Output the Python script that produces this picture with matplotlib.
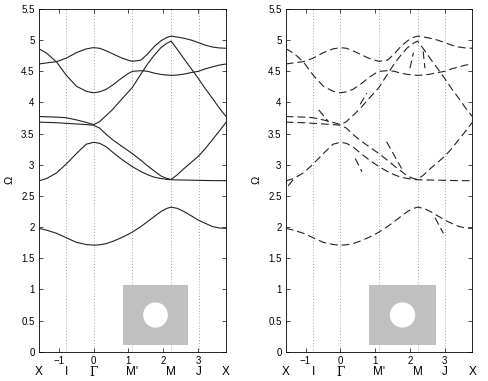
import numpy as np
import matplotlib
matplotlib.use("Agg")
import matplotlib.pyplot as plt
from matplotlib.patches import Ellipse
from matplotlib.transforms import blended_transform_factory

plt.rcParams['font.family'] = ['Liberation Sans', 'DejaVu Sans']

# ---- data ----
k = [-1.571, -1.34, -1.06, -0.785, -0.49, -0.21, 0.0, 0.17, 0.36, 0.55, 0.8, 0.98,
     1.11, 1.36, 1.55, 1.74, 1.93, 2.1, 2.221, 2.4, 2.59, 2.8, 3.006, 3.2, 3.4, 3.6, 3.792]

band1 = [1.98, 1.95, 1.90, 1.83, 1.755, 1.72, 1.71, 1.715, 1.735, 1.77, 1.83, 1.88,
         1.92, 2.01, 2.09, 2.17, 2.25, 2.30, 2.32, 2.30, 2.25, 2.18, 2.11, 2.06, 2.01, 1.985, 1.98]
band2 = [2.74, 2.78, 2.87, 3.01, 3.18, 3.33, 3.36, 3.345, 3.29, 3.20, 3.09, 3.02,
         2.97, 2.89, 2.84, 2.80, 2.78, 2.765, 2.76, 2.757, 2.755, 2.753, 2.75, 2.748, 2.746, 2.745, 2.745]
band3 = [3.685, 3.68, 3.675, 3.665, 3.655, 3.645, 3.635, 3.59, 3.49, 3.40, 3.30, 3.23,
         3.18, 3.07, 2.98, 2.90, 2.82, 2.78, 2.765, 2.84, 2.94, 3.04, 3.14, 3.26, 3.40, 3.54, 3.68]
band4 = [3.775, 3.77, 3.765, 3.755, 3.72, 3.68, 3.645, 3.69, 3.79, 3.89, 4.05, 4.16,
         4.24, 4.46, 4.62, 4.76, 4.88, 4.95, 4.985, 4.85, 4.70, 4.54, 4.38, 4.22, 4.07, 3.91, 3.775]
band5 = [4.865, 4.79, 4.65, 4.44, 4.26, 4.18, 4.155, 4.17, 4.21, 4.28, 4.39, 4.46,
         4.50, 4.51, 4.50, 4.47, 4.45, 4.44, 4.435, 4.44, 4.455, 4.48, 4.50, 4.54, 4.57, 4.60, 4.617]
band6 = [4.617, 4.635, 4.655, 4.71, 4.80, 4.86, 4.88, 4.87, 4.83, 4.78, 4.715, 4.68,
         4.66, 4.68, 4.78, 4.90, 4.99, 5.045, 5.065, 5.05, 5.03, 5.00, 4.96, 4.92, 4.89, 4.875, 4.87]
bands = [band1, band2, band3, band4, band5, band6]

# stray short segments in the right panel (x0, y0, x1, y1)
stray = [(0.43, 3.10, 0.62, 2.89), (-0.62, 3.88, -0.34, 3.69),
         (2.00, 4.55, 2.10, 4.80), (2.38, 4.82, 2.43, 4.55),
         (1.33, 3.37, 1.76, 2.94), (-1.50, 2.66, -1.30, 2.80),
         (2.72, 2.15, 2.96, 1.90), (0.57, 3.97, 0.76, 4.15)]

sym_x = [-1.571, -0.785, 0.0, 1.111, 2.221, 3.006, 3.792]
sym_labels = ['X', 'I', 'Γ', "M'", 'M', 'J', 'X']
grid_x = [-0.785, 0.0, 1.111, 2.221, 3.006]
xticks = [-1, 0, 1, 2, 3]
yticks = [0, 0.5, 1, 1.5, 2, 2.5, 3, 3.5, 4, 4.5, 5, 5.5]
ytick_labels = ['0', '0.5', '1', '1.5', '2', '2.5', '3', '3.5', '4', '4.5', '5', '5.5']

W, H = 488, 381
fig = plt.figure(figsize=(W / 100, H / 100), dpi=100)

panels = [(38.7, 226.0, 123, 188, 'solid'), (285.7, 472.3, 369, 436, 'dashed')]
for (l, r, il, ir, style) in panels:
    ax = fig.add_axes([l / W, 1 - 351.7 / H, (r - l) / W, (351.7 - 9) / H])
    ax.set_xlim(-1.5708, 3.7922)
    ax.set_ylim(0, 5.5)
    for gx in grid_x:
        ax.axvline(gx, color='#888888', lw=0.6, ls=(0, (1, 2.5)), zorder=1)
    for b in bands:
        if style == 'solid':
            ax.plot(k, b, color='#222222', lw=0.8, zorder=3)
        else:
            ax.plot(k, b, color='#222222', lw=0.8, ls=(0, (7, 3.6)), zorder=3)
    if style == 'dashed':
        for (x0, y0, x1, y1) in stray:
            ax.plot([x0, x1], [y0, y1], color='#222222', lw=0.8, ls=(0, (7, 3.6)), zorder=3)
    ax.set_xticks(xticks)
    ax.set_xticklabels(['−1', '0', '1', '2', '3'])
    ax.set_yticks(yticks)
    ax.set_yticklabels(ytick_labels)
    ax.tick_params(direction='in', length=3, width=0.5, labelsize=7, top=True, right=True,
                   pad=3)
    for s in ax.spines.values():
        s.set_linewidth(0.6)
    ax.set_ylabel('Ω', fontsize=8, labelpad=5)
    tr = blended_transform_factory(ax.transData, ax.transAxes)
    for sx, sl in zip(sym_x, sym_labels):
        fam = ['DejaVu Serif'] if sl == 'Γ' else ['Liberation Sans', 'DejaVu Sans']
        ax.text(sx, -0.06, sl, transform=tr, ha='center', va='center', fontsize=8.5,
                family=fam)
    # inset unit cell
    iax = fig.add_axes([il / W, 1 - 345 / H, (ir - il) / W, 60 / H])
    iax.set_facecolor('#c0c0c0')
    iax.set_xticks([]); iax.set_yticks([])
    for s in iax.spines.values():
        s.set_visible(False)
    iax.add_patch(Ellipse((0.5, 0.5), 0.38, 0.42, transform=iax.transAxes,
                          facecolor='white', edgecolor='none'))

fig.savefig('out.png', dpi=100)
